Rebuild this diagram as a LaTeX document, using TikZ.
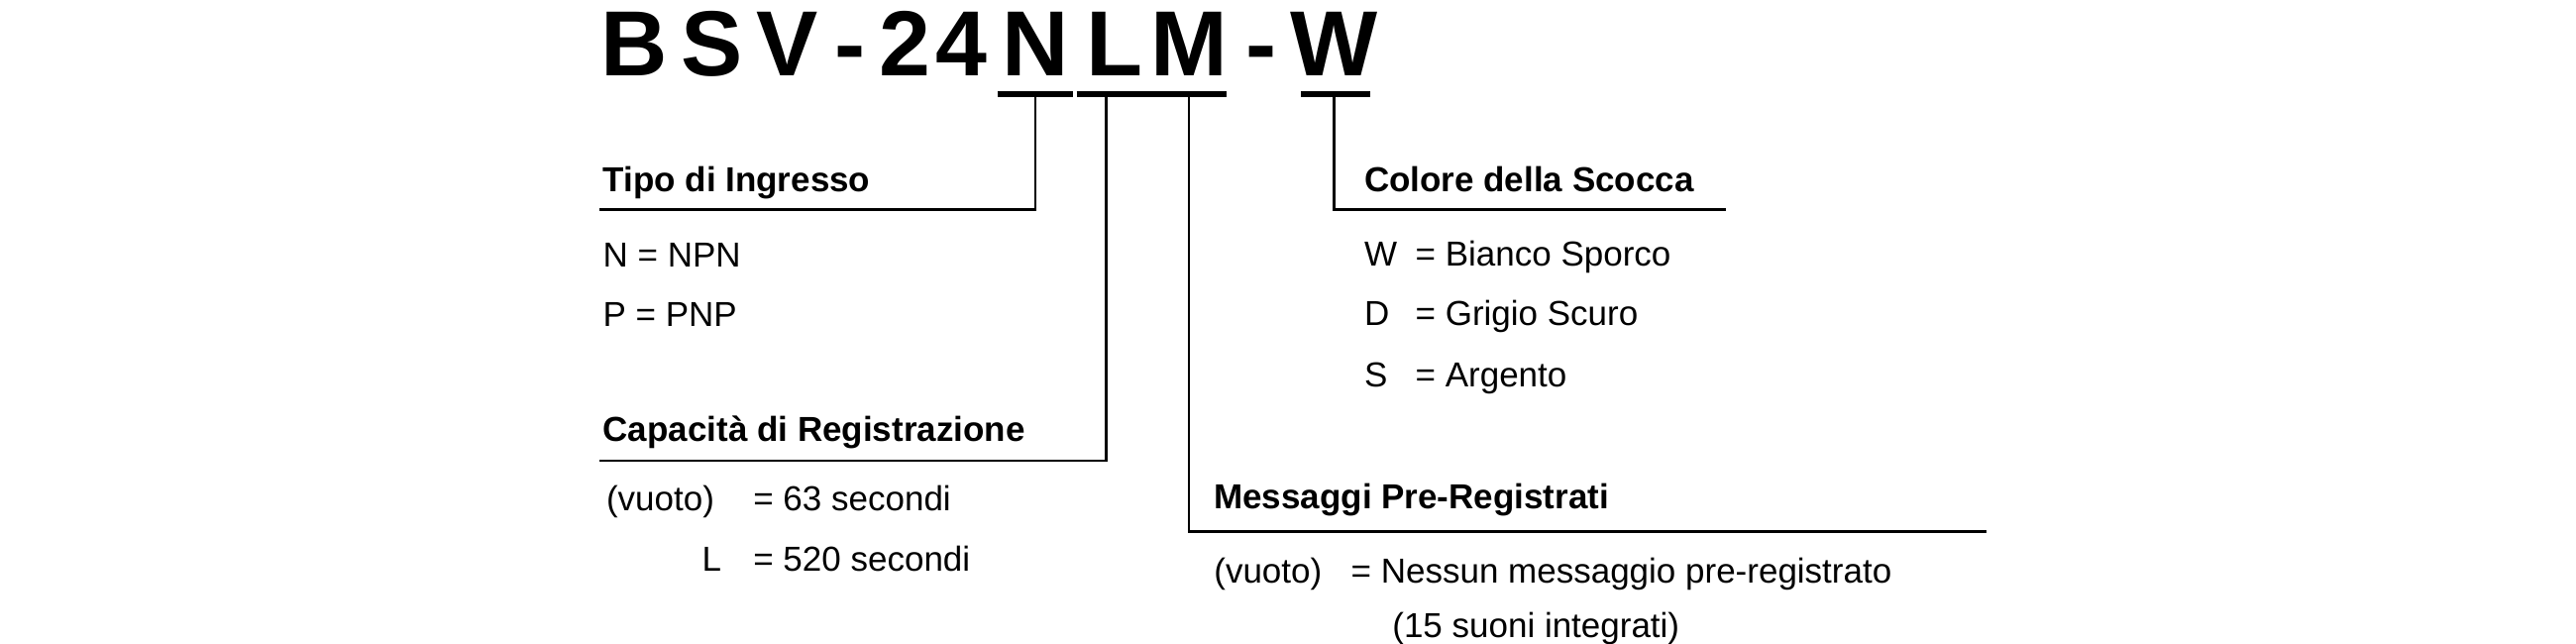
\documentclass[tikz,border=0pt]{standalone}
\usepackage{fontspec}
\setmainfont{Liberation Sans}
\usetikzlibrary{positioning}
\begin{document}
\begin{tikzpicture}
[every node/.style={inner sep=0pt, anchor=base west, font=\fontsize{21pt}{24pt}\selectfont},
 ch/.style={anchor=base, font=\fontsize{56pt}{60pt}\selectfont\bfseries},
 head/.style={font=\fontsize{21pt}{24pt}\selectfont\bfseries},
 bar/.style={line width=4pt},
 lead/.style={line width=1.6pt}]
\useasboundingbox (0pt, 0pt) rectangle (1560pt, -390pt);
% model code
\node (B) [ch] at (384pt, -46pt) {B};
\node (S) [ch] at (431pt, -46pt) {S};
\node (V) [ch] at (477pt, -46pt) {V};
\node (d1) [ch] at (515pt, -46pt) {-};
\node (c2) [ch] at (548pt, -46pt) {2};
\node (c4) [ch] at (582pt, -46pt) {4};
\node (N) [ch] at (627pt, -46pt) {N};
\node (L) [ch] at (675pt, -46pt) {L};
\node (M) [ch] at (720pt, -46pt) {M};
\node (d2) [ch] at (764pt, -46pt) {-};
\node (W) [ch] at (808pt, -46pt) {W};
\draw [bar] (604pt, -57pt) -- (650pt, -57pt);
\draw [bar] (652pt, -57pt) -- (698pt, -57pt);
\draw [bar] (698pt, -57pt) -- (743pt, -57pt);
\draw [bar] (788pt, -57pt) -- (830pt, -57pt);
% leads
\coordinate (nEnd) at (363pt, -127pt);
\coordinate (lEnd) at (363pt, -279pt);
\coordinate (mEnd) at (1203pt, -322pt);
\coordinate (wEnd) at (1045pt, -127pt);
\draw [lead] (627pt, -59pt) |- (nEnd);
\draw [lead] (670pt, -59pt) |- (lEnd);
\draw [lead] (720pt, -59pt) |- (mEnd);
\draw [lead] (808pt, -59pt) |- (wEnd);
% input type
\node (tipo) [head] at (365pt, -116pt) {Tipo di Ingresso};
\node (npn) at (365pt, -162pt) {N = NPN};
\node (pnp) at (365pt, -198pt) {P = PNP};
% capacity
\node (cap) [head] at (365pt, -267pt) {Capacità di Registrazione};
\node (c63) at (367pt, -309pt) {(vuoto)};
\node (e63) at (456pt, -309pt) {= 63 secondi};
\node (cL) at (425pt, -346pt) {L};
\node (eL) at (456pt, -346pt) {= 520 secondi};
% messages
\node (msg) [head] at (735pt, -308pt) {Messaggi Pre-Registrati};
\node (mv) at (735pt, -353pt) {(vuoto)};
\node (me) at (818pt, -353pt) {= Nessun messaggio pre-registrato};
\node (m15) at (843pt, -386pt) {(15 suoni integrati)};
% colour
\node (col) [head] at (826pt, -116pt) {Colore della Scocca};
\node (cw) at (826pt, -161pt) {W};
\node (ew) at (857pt, -161pt) {= Bianco Sporco};
\node (cd) at (826pt, -197pt) {D};
\node (ed) at (857pt, -197pt) {= Grigio Scuro};
\node (cs) at (826pt, -234pt) {S};
\node (es) at (857pt, -234pt) {= Argento};
\end{tikzpicture}
\end{document}
